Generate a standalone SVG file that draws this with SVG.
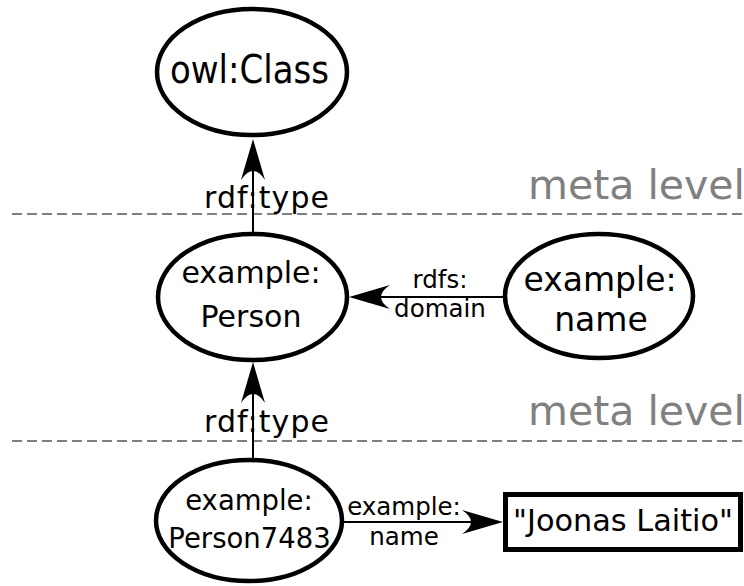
<svg xmlns="http://www.w3.org/2000/svg" width="744" height="586" viewBox="0 0 744 586">
  <style>
    text { font-family: "DejaVu Sans", "Liberation Sans", sans-serif; fill: #000; }
    .node { fill: #fff; stroke: #000; stroke-width: 4.5; }
    .box { fill: #fff; stroke: #000; stroke-width: 5; }
    .edge { fill: none; stroke: #000; stroke-width: 2; marker-end: url(#head); }
    .level { fill: none; stroke: #808080; stroke-width: 2; stroke-dasharray: 10 5; }
    .levelText { fill: #808080; font-size: 41px; }
    .mid { text-anchor: middle; }
    .lbl { font-size: 24.5px; text-anchor: middle; }
    .type { font-size: 30px; }
  </style>
  <defs>
    <!-- concave arrowhead; tip sits 20 units beyond the end of the line -->
    <marker id="head" markerUnits="userSpaceOnUse" orient="auto" refX="0" refY="0"
            markerWidth="80" markerHeight="40" viewBox="-30 -20 60 40" overflow="visible">
      <path d="M20,0 L-21,-12 Q-3,0 -21,12 Z" fill="#000"/>
    </marker>
  </defs>

  <!-- level separators -->
  <g id="levels">
    <line class="level" x1="12" y1="214" x2="744" y2="214"/>
    <text class="levelText" x="528" y="199">meta level</text>
    <line class="level" x1="12" y1="441" x2="744" y2="441"/>
    <text class="levelText" x="528" y="425">meta level</text>
  </g>

  <!-- connectors -->
  <g id="connectors">
    <line class="edge" x1="253" y1="232" x2="253" y2="159"/>
    <text class="type" x="204" y="208" textLength="125" lengthAdjust="spacing">rdf:type</text>

    <line class="edge" x1="253" y1="458" x2="253" y2="382"/>
    <text class="type" x="204" y="432" textLength="125" lengthAdjust="spacing">rdf:type</text>

    <line class="edge" x1="503" y1="297" x2="369" y2="297"/>
    <text class="lbl" x="440" y="288">rdfs:</text>
    <text class="lbl" x="440" y="317">domain</text>

    <line class="edge" x1="344" y1="522" x2="483" y2="522"/>
    <text class="lbl" x="404" y="515">example:</text>
    <text class="lbl" x="404" y="545">name</text>
  </g>

  <g id="owl-class">
    <ellipse class="node" cx="252" cy="72" rx="95" ry="63"/>
    <!-- narrow, tall lettering -->
    <text x="170" y="83" font-size="39" textLength="159" lengthAdjust="spacingAndGlyphs">owl:Class</text>
  </g>

  <g id="example-person">
    <ellipse class="node" cx="252.5" cy="297" rx="94.5" ry="63"/>
    <text class="mid" x="251" y="283" font-size="30">example:</text>
    <text class="mid" x="251" y="327" font-size="30">Person</text>
  </g>

  <g id="example-name">
    <ellipse class="node" cx="599" cy="296" rx="94" ry="62"/>
    <text class="mid" x="600" y="291" font-size="33">example:</text>
    <text class="mid" x="601" y="331" font-size="33">name</text>
  </g>

  <g id="example-person7483">
    <ellipse class="node" cx="249" cy="520.5" rx="93" ry="60.5"/>
    <text class="mid" x="249" y="510" font-size="27.5">example:</text>
    <text class="mid" x="249.5" y="548" font-size="27.5">Person7483</text>
  </g>

  <g id="literal-name">
    <rect class="box" x="505.5" y="494.5" width="235" height="55"/>
    <text x="513" y="531" font-size="31" textLength="220" lengthAdjust="spacingAndGlyphs">"Joonas Laitio"</text>
  </g>
</svg>
